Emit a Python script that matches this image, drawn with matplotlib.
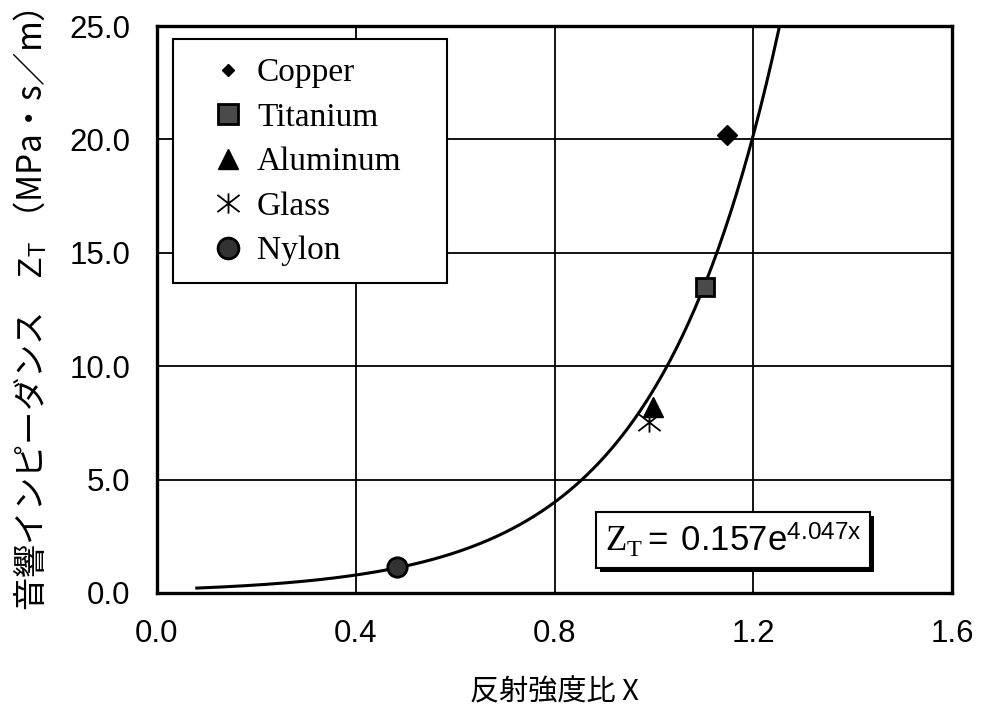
import numpy as np
import matplotlib
matplotlib.use("Agg")
import matplotlib.pyplot as plt
import matplotlib.patheffects as pe
from matplotlib.patches import Rectangle
from matplotlib.path import Path

plt.rcParams['mathtext.fontset'] = 'custom'
plt.rcParams['mathtext.rm'] = 'Liberation Serif'
plt.rcParams['mathtext.sf'] = 'Liberation Sans'
plt.rcParams['mathtext.it'] = 'Liberation Serif:italic'

# measured points (reflection ratio X, acoustic impedance Z_T)
materials = ['Copper', 'Titanium', 'Aluminum', 'Glass', 'Nylon']
x_ratio = [1.147, 1.103, 0.998, 0.990, 0.483]
z_imp = [20.2, 13.5, 8.2, 7.55, 1.15]

# exponential fit Z_T = a * exp(b * X)
fit_a = 0.157
fit_b = 4.047
fit_range = [0.08, 1.28]

xticks = [0.0, 0.4, 0.8, 1.2, 1.6]
yticks = [0.0, 5.0, 10.0, 15.0, 20.0, 25.0]

# asterisk-like marker for glass
glass_marker = Path([(-1.1, -0.85), (1.1, 0.85), (-1.1, 0.85), (1.1, -0.85), (0, -1), (0, 1)],
                    [Path.MOVETO, Path.LINETO, Path.MOVETO, Path.LINETO, Path.MOVETO, Path.LINETO])

styles = {
    'Copper':   dict(marker='D', ms=10, mfc='k', mec='k', mew=1.0),
    'Titanium': dict(marker='s', ms=13, mfc='#4a4a4a', mec='k', mew=2.0),
    'Aluminum': dict(marker='^', ms=14, mfc='k', mec='k', mew=1.0),
    'Glass':    dict(marker=glass_marker, ms=16, mfc='none', mec='k', mew=1.3),
    'Nylon':    dict(marker='o', ms=14, mfc='#333333', mec='k', mew=2.0),
}
legend_ms = {'Copper': 6, 'Titanium': 15, 'Aluminum': 15, 'Glass': 16, 'Nylon': 15}

fig = plt.figure(figsize=(9.89, 7.06), dpi=100)
ax = fig.add_axes([157 / 989, 113 / 706, 795 / 989, 567 / 706])

xs = np.linspace(fit_range[0], fit_range[1], 400)
ax.plot(xs, fit_a * np.exp(fit_b * xs), color='k', lw=2.2, zorder=3)

handles = []
for name, xv, yv in zip(materials, x_ratio, z_imp):
    h, = ax.plot([xv], [yv], linestyle='none', label=name, zorder=4, **styles[name])
    handles.append(h)

ax.set_xlim(0, 1.6)
ax.set_ylim(0, 25)
ax.set_xticks(xticks)
ax.set_yticks(yticks)
ax.set_xticklabels([f'{v:.1f}' for v in xticks], family='Liberation Sans', fontsize=22.5)
ax.set_yticklabels([f'{v:.1f}' for v in yticks], family='Liberation Sans', fontsize=22.5)
ax.tick_params(axis='x', length=0, pad=19)
ax.tick_params(axis='y', length=0, pad=19)
ax.set_axisbelow(True)
ax.grid(True, color='k', lw=1.3)
for s in ax.spines.values():
    s.set_linewidth(2.4)

ax.set_xlabel('反射強度比 X', family=['Noto Sans CJK JP', 'DejaVu Sans'], fontsize=21, labelpad=20)
ax.set_ylabel('音響インピーダンス　$\\mathsf{Z}_{\\mathsf{T}}$ （MPa・s／m）',
              family=['Noto Sans CJK JP', 'DejaVu Sans'], fontsize=24, labelpad=14)

# legend box
ax.add_patch(Rectangle((0.020, 0.547), 0.345, 0.430, transform=ax.transAxes,
                       facecolor='white', edgecolor='k', lw=1.5, zorder=4.5))
leg = ax.legend(handles=handles, loc='upper left', bbox_to_anchor=(0.068, 0.944),
                frameon=False, borderpad=0, borderaxespad=0, handlelength=1.0,
                handletextpad=0.38, labelspacing=0.42, numpoints=1,
                prop={'family': 'Liberation Serif', 'size': 24})
leg.set_zorder(6)
for lh, name in zip(leg.legend_handles, materials):
    lh.set_markersize(legend_ms[name])

# fitted equation label
eq = ax.text(0.7245, 0.0935,
             f'$\\mathrm{{Z}}_{{\\mathrm{{T}}}}\\mathsf{{=\\ {fit_a}e}}^{{\\mathsf{{{fit_b}x}}}}$',
             transform=ax.transAxes, ha='center', va='center', fontsize=25, zorder=6,
             bbox=dict(boxstyle='square,pad=0.25', facecolor='white', edgecolor='k', lw=1.5))
eq.get_bbox_patch().set_path_effects([
    pe.SimplePatchShadow(offset=(3, -3), shadow_rgbFace='k', alpha=1.0), pe.Normal()])

fig.savefig('out.png', dpi=100)
